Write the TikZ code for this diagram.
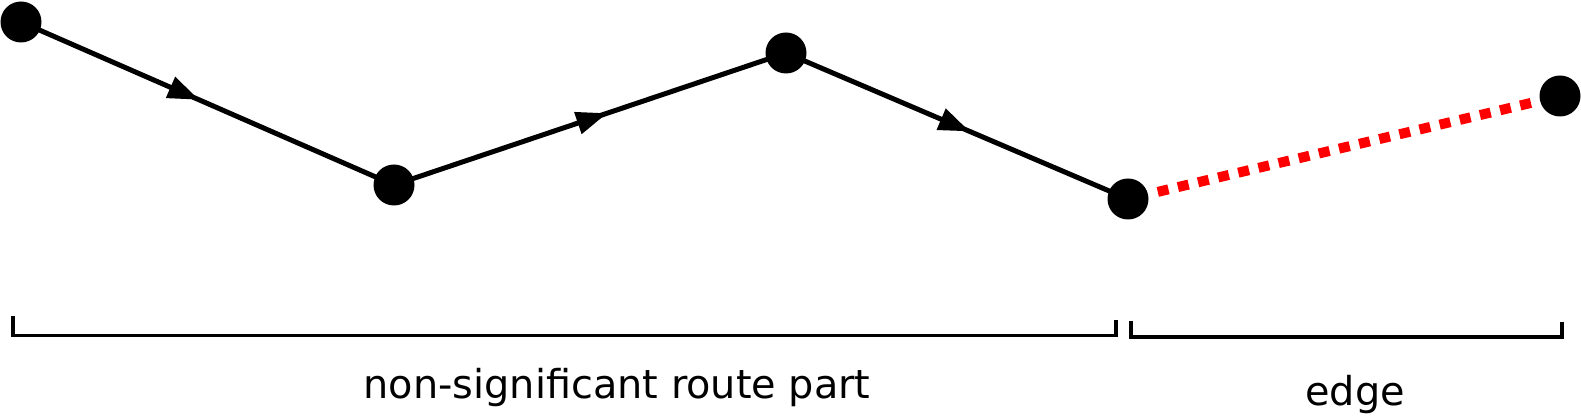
\documentclass[tikz,border=0pt]{standalone}
\usepackage{fontspec}
\setmainfont{DejaVu Sans}
\usetikzlibrary{arrows.meta,decorations.markings,backgrounds}
\tikzset{
	dot/.style={circle,fill=black,inner sep=0pt,minimum size=20.5pt},
	midarrow/.style={line width=2.5pt,postaction={decorate},decoration={markings,
		mark=at position #1 with {\arrow{>}}}},
	bracket/.style={line width=1.65pt},
	lbl/.style={anchor=base,inner sep=0pt,font=\fontsize{19.9pt}{24pt}\selectfont}
}
\begin{document}
\begin{tikzpicture}[x=0.5pt,y=-0.5pt,>={Triangle[length=15.5pt,width=11pt]}]
	\useasboundingbox (0,0) rectangle (1581,416);
	\node[dot](p1) at (21,22){};
	\node[dot](p2) at (394,185){};
	\node[dot](p3) at (786,53){};
	\node[dot](p4) at (1128,199){};
	\node[dot](p5) at (1560,96){};
	\begin{scope}[on background layer]
	\draw[midarrow=0.477](p1.center)--(p2.center);
	\draw[midarrow=0.544](p2.center)--(p3.center);
	\draw[midarrow=0.537](p3.center)--(p4.center);
	\end{scope}
	\draw[red,line width=5pt,dash pattern=on 5.5pt off 4.85pt,dash phase=5.5pt](p4)--(p5);
	\draw[bracket](13,316)|-(1116,335.5)--(1116,320);
	\draw[bracket](1131,321)|-(1562,337)--(1562,322);
	\node[lbl](route) at (617,399){non-significant route part};
	\node[lbl](edge) at (1355,406){edge};
\end{tikzpicture}
\end{document}
